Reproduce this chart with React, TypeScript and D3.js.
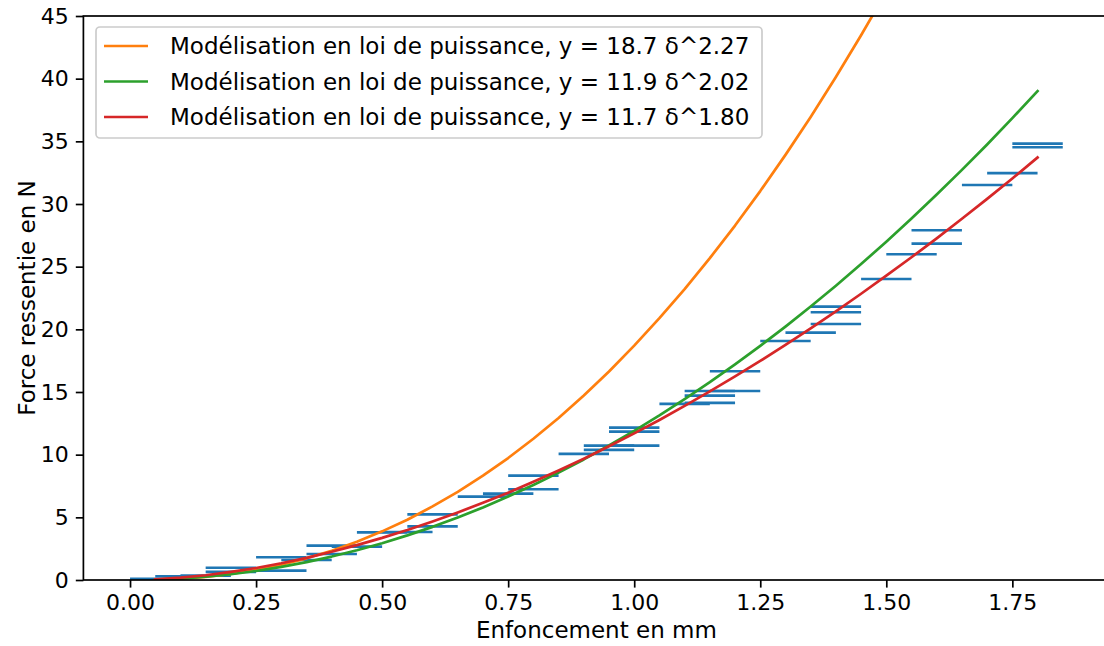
import React, { useRef, useEffect } from 'react';
import * as d3 from 'd3';

// abscisses of the fitted curves (mm)
const curveX = [
  0.05, 0.1, 0.15, 0.2, 0.25, 0.3, 0.35, 0.4, 0.45, 0.5, 0.55, 0.6,
  0.65, 0.7, 0.75, 0.8, 0.85, 0.9, 0.95, 1.0, 1.05, 1.1, 1.15, 1.2,
  1.25, 1.3, 1.35, 1.4, 1.45, 1.5, 1.55, 1.6, 1.65, 1.7, 1.75, 1.8,
];
// y = 18.7 d^2.27
const orangeY = [
  0.02, 0.1, 0.25, 0.48, 0.8, 1.22, 1.73, 2.34, 3.05, 3.88, 4.81, 5.87,
  7.03, 8.32, 9.73, 11.27, 12.93, 14.72, 16.64, 18.7, 20.89, 23.21, 25.68, 28.28,
  31.03, 33.92, 36.95, 40.13, 43.46, 46.94, 50.57, 54.35, 58.28, 62.37, 66.61, 71.01,
];
// y = 11.9 d^2.02
const greenY = [
  0.03, 0.11, 0.26, 0.46, 0.72, 1.05, 1.43, 1.87, 2.37, 2.93, 3.56, 4.24,
  4.99, 5.79, 6.66, 7.58, 8.57, 9.62, 10.73, 11.9, 13.13, 14.43, 15.78, 17.2,
  18.68, 20.22, 21.82, 23.48, 25.21, 26.99, 28.84, 30.75, 32.72, 34.75, 36.85, 39.01,
];
// y = 11.7 d^1.80
const redY = [
  0.05, 0.19, 0.38, 0.65, 0.96, 1.34, 1.77, 2.25, 2.78, 3.36, 3.99, 4.67,
  5.39, 6.16, 6.97, 7.83, 8.73, 9.68, 10.67, 11.7, 12.77, 13.89, 15.05, 16.24,
  17.48, 18.76, 20.08, 21.44, 22.84, 24.28, 25.75, 27.26, 28.82, 30.41, 32.04, 33.71,
];

// measured points (horizontal error bars, +/- 0.05 mm)
const measX = [
  0.05, 0.1, 0.15, 0.2, 0.2, 0.3, 0.3, 0.35, 0.4, 0.4, 0.45, 0.5,
  0.55, 0.6, 0.6, 0.7, 0.75, 0.8, 0.8, 0.9, 0.95, 0.95, 1.0, 1.0,
  1.0, 1.1, 1.15, 1.15, 1.15, 1.2, 1.2, 1.3, 1.35, 1.4, 1.4, 1.4,
  1.5, 1.55, 1.6, 1.6, 1.7, 1.75, 1.8, 1.8,
];
const measY = [
  0.1, 0.3, 0.35, 0.98, 0.65, 1.81, 0.75, 1.6, 2.74, 2.07, 2.66, 3.8,
  3.83, 5.24, 4.28, 6.65, 6.89, 8.33, 7.24, 10.06, 10.38, 10.72, 12.16, 11.84,
  10.72, 14.05, 14.13, 14.71, 15.08, 15.08, 16.65, 19.07, 19.74, 20.43, 21.36, 21.81,
  24.02, 25.99, 26.84, 27.9, 31.52, 32.46, 34.53, 34.82,
];
const xErr = 0.05;

const xTicks = [0, 0.25, 0.5, 0.75, 1.0, 1.25, 1.5, 1.75];
const yTicks = [0, 5, 10, 15, 20, 25, 30, 35, 40, 45];

const legendLabels = [
  'Modélisation en loi de puissance, y = 18.7 δ^2.27',
  'Modélisation en loi de puissance, y = 11.9 δ^2.02',
  'Modélisation en loi de puissance, y = 11.7 δ^1.80',
];
const colors = ['#ff7f0e', '#2ca02c', '#d62728'];

const W = 1104;
const H = 646;
const FONT = 'DejaVu Sans, sans-serif';

const App = () => {
  const svgRef = useRef<SVGSVGElement>(null);

  useEffect(() => {
    const svg = d3.select(svgRef.current);
    svg.selectAll('*').remove();

    const left = 83.4, right = 1109.4, top = 16, bottom = 580;

    const x = d3.scaleLinear().domain([-0.0925, 1.9425]).range([left, right]);
    const y = d3.scaleLinear().domain([0, 45]).range([bottom, top]);

    svg.append('rect').attr('width', W).attr('height', H).attr('fill', '#fff');

    svg.append('clipPath').attr('id', 'plot-clip')
      .append('rect')
      .attr('x', left).attr('y', top)
      .attr('width', right - left).attr('height', bottom - top);

    const plot = svg.append('g').attr('clip-path', 'url(#plot-clip)');

    // error bars
    plot.append('g')
      .selectAll('line')
      .data(measX.map((d, i) => ({ x: d, y: measY[i] })))
      .enter().append('line')
      .attr('x1', d => x(d.x - xErr))
      .attr('x2', d => x(d.x + xErr))
      .attr('y1', d => y(d.y))
      .attr('y2', d => y(d.y))
      .attr('stroke', '#1f77b4')
      .attr('stroke-width', 2.6);

    const line = d3.line<[number, number]>()
      .x(d => x(d[0]))
      .y(d => y(d[1]));

    [orangeY, greenY, redY].forEach((ys, k) => {
      plot.append('path')
        .datum(curveX.map((d, i) => [d, ys[i]] as [number, number]))
        .attr('d', line)
        .attr('fill', 'none')
        .attr('stroke', colors[k])
        .attr('stroke-width', 2.7)
        .attr('stroke-linejoin', 'round')
        .attr('stroke-linecap', 'square');
    });

    // axes
    const xAxis = svg.append('g')
      .attr('transform', `translate(0,${bottom})`)
      .call(d3.axisBottom(x).tickValues(xTicks).tickFormat(d3.format('.2f')).tickSizeOuter(0).tickSize(7.6).tickPadding(7));
    const yAxis = svg.append('g')
      .attr('transform', `translate(${left},0)`)
      .call(d3.axisLeft(y).tickValues(yTicks).tickFormat(d3.format('d')).tickSizeOuter(0).tickSize(7.6).tickPadding(7));

    [xAxis, yAxis].forEach(ax => {
      ax.select('.domain').remove();
      ax.selectAll('line').attr('stroke', '#000').attr('stroke-width', 1.7);
      ax.selectAll('text')
        .attr('font-family', FONT)
        .attr('font-size', 22)
        .attr('fill', '#000');
    });

    // spines
    svg.append('rect')
      .attr('x', left).attr('y', top)
      .attr('width', right - left).attr('height', bottom - top)
      .attr('fill', 'none')
      .attr('stroke', '#000')
      .attr('stroke-width', 1.7);

    // labels
    svg.append('text')
      .attr('x', (left + right) / 2)
      .attr('y', 638)
      .attr('text-anchor', 'middle')
      .attr('font-family', FONT)
      .attr('font-size', 23)
      .text('Enfoncement en mm');

    svg.append('text')
      .attr('transform', `translate(35,${(top + bottom) / 2}) rotate(-90)`)
      .attr('text-anchor', 'middle')
      .attr('font-family', FONT)
      .attr('font-size', 23)
      .text('Force ressentie en N');

    // legend
    const legend = svg.append('g');
    legend.append('rect')
      .attr('x', 96).attr('y', 27)
      .attr('width', 666).attr('height', 111)
      .attr('rx', 4)
      .attr('fill', '#fff')
      .attr('fill-opacity', 0.8)
      .attr('stroke', '#cccccc')
      .attr('stroke-width', 1.7);

    const rows = legend.selectAll('g.row')
      .data(legendLabels)
      .enter().append('g')
      .attr('class', 'row')
      .attr('transform', (d, i) => `translate(0,${46 + i * 35.5})`);

    rows.append('line')
      .attr('x1', 104).attr('x2', 148)
      .attr('stroke', (d, i) => colors[i])
      .attr('stroke-width', 2.6);

    rows.append('text')
      .attr('x', 170)
      .attr('dy', '0.36em')
      .attr('font-family', FONT)
      .attr('font-size', 23)
      .text(d => d);
  }, []);

  return (
    <svg ref={svgRef} width={W} height={H} style={{ position: 'absolute', left: 0, top: 0 }} />
  );
};

export default App;
